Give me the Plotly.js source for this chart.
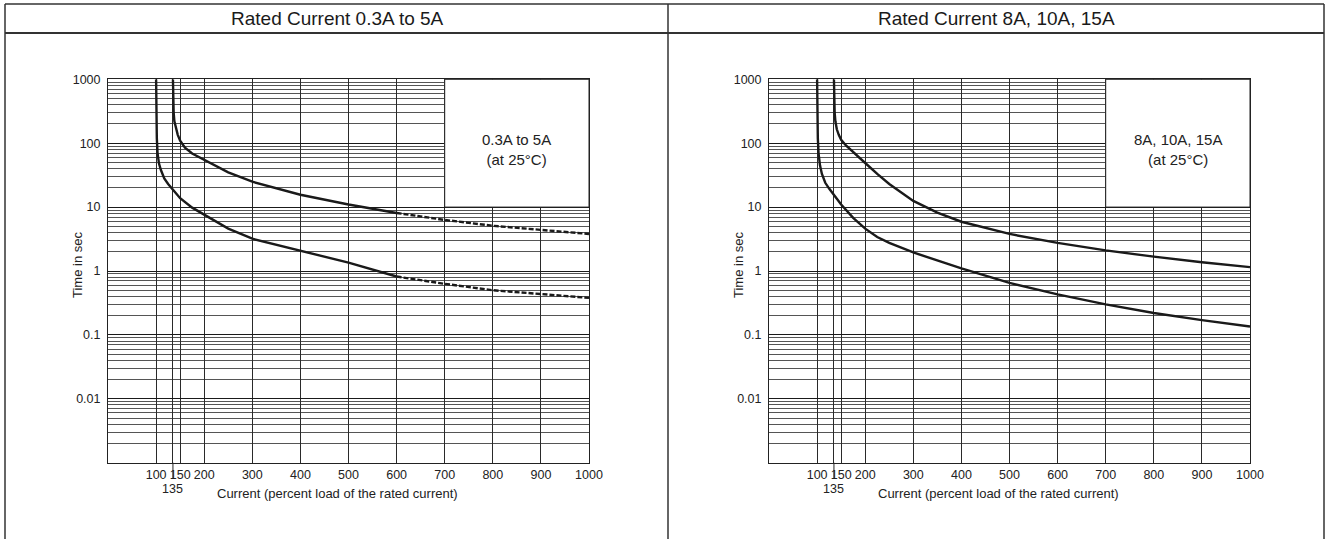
<!DOCTYPE html>
<html><head><meta charset="utf-8">
<script src="https://cdn.plot.ly/plotly-3.0.1.min.js"></script>
<style>html,body{margin:0;padding:0;background:#fff;}#chart{width:1328px;height:539px;}</style>
</head><body><div id="chart"></div>
<script>
// ---- text ----
const panelTitles = ['Rated Current 0.3A to 5A', 'Rated Current 8A, 10A, 15A'];
const boxLabels = ['0.3A to 5A<br>(at 25°C)', '8A, 10A, 15A<br>(at 25°C)'];
const xAxisTitle = 'Current (percent load of the rated current)';
const yAxisTitle = 'Time in sec';
const xTickVals = [100, 135, 150, 200, 300, 400, 500, 600, 700, 800, 900, 1000];
const xTickText = ['100', '', '150', '200', '300', '400', '500', '600', '700', '800', '900', '1000'];
const offsetTickVal = 135;
const offsetTickText = '135';
const yTickVals = [0.01, 0.1, 1, 10, 100, 1000];
const yTickText = ['0.01', '0.1', '1', '10', '100', '1000'];

// ---- left panel (0.3A to 5A) ----
const leftLowerX = [100, 100.5, 101.5, 103, 106, 110, 117, 125, 135, 150, 175, 200, 250, 300, 400, 500, 600];
const leftLowerY = [1000, 300, 120, 70, 48, 38, 28, 23, 19, 13.8, 9.8, 7.6, 4.6, 3.2, 2.05, 1.35, 0.82];
const leftLowerDashX = [600, 700, 800, 900, 1000];
const leftLowerDashY = [0.82, 0.63, 0.5, 0.43, 0.38];
const leftUpperX = [135, 135.5, 136.5, 138, 141, 145, 150, 160, 175, 200, 250, 300, 400, 500, 600];
const leftUpperY = [1000, 500, 300, 220, 170, 135, 110, 85, 69, 55, 35, 25, 15.6, 11, 8.1];
const leftUpperDashX = [600, 700, 800, 900, 1000];
const leftUpperDashY = [8.1, 6.3, 5.1, 4.4, 3.8];

// ---- right panel (8A, 10A, 15A) ----
const rightLowerX = [100, 100.5, 101.5, 103, 106, 110, 117, 125, 135, 150, 175, 200, 225, 250, 300, 400, 500, 600, 700, 800, 900, 1000];
const rightLowerY = [1000, 300, 120, 70, 45, 33, 24, 19.5, 15.5, 11, 6.8, 4.6, 3.4, 2.75, 1.95, 1.1, 0.65, 0.43, 0.30, 0.22, 0.17, 0.135];
const rightUpperX = [135, 135.5, 136.5, 138, 141, 145, 150, 160, 175, 200, 225, 250, 300, 350, 400, 500, 600, 700, 800, 900, 1000];
const rightUpperY = [1000, 500, 300, 220, 165, 135, 113, 92, 72, 49, 33, 23, 12.5, 8.2, 5.9, 3.8, 2.75, 2.1, 1.68, 1.37, 1.15];

// ---- geometry helpers ----
const W = 1328, H = 539;
const px = v => v / W;
const py = v => 1 - v / H;
const plotTop = 79.3, plotBottom = 462.7;
const yDom = [py(plotBottom), py(plotTop)];
const xDomL = [px(108), px(589)];
const xDomR = [px(769), px(1250)];

const minorY = [];
for (let k = -3; k <= 2; k++) for (let d = 2; d <= 9; d++) minorY.push(d * Math.pow(10, k));

const FONT = 'Liberation Sans, Arial, sans-serif';
const INK = '#222';

function curve(x, y, xa, ya, dashed) {
  return {x, y, xaxis: xa, yaxis: ya, type: 'scatter', mode: 'lines', hoverinfo: 'skip',
    line: {color: '#1a1a1a', width: 2.4, dash: dashed ? '5px,2px' : 'solid'}, showlegend: false};
}

const traces = [
  curve(leftLowerX, leftLowerY, 'x', 'y', false),
  curve(leftLowerDashX, leftLowerDashY, 'x', 'y', true),
  curve(leftUpperX, leftUpperY, 'x', 'y', false),
  curve(leftUpperDashX, leftUpperDashY, 'x', 'y', true),
  curve(rightLowerX, rightLowerY, 'x2', 'y2', false),
  curve(rightUpperX, rightUpperY, 'x2', 'y2', false)
];

function xAxis(domain, anchor) {
  return {domain, anchor, type: 'linear', range: [0, 1000], tickmode: 'array', tickvals: xTickVals,
    ticktext: xTickText, showgrid: true, gridcolor: '#2a2a2a', gridwidth: 1, zeroline: false,
    showline: true, mirror: true, linecolor: INK, linewidth: 1, ticks: '', ticklabelstandoff: 0,
    tickfont: {family: FONT, size: 12.5, color: INK}, fixedrange: true};
}
function yAxis(anchor) {
  return {domain: yDom, anchor, type: 'log', range: [-3, 3], tickmode: 'array', tickvals: yTickVals,
    ticktext: yTickText, showgrid: true, gridcolor: '#1a1a1a', gridwidth: 1, zeroline: false,
    showline: true, mirror: true, linecolor: INK, linewidth: 1, ticks: '', ticklabelstandoff: 4,
    tickfont: {family: FONT, size: 12.5, color: INK}, fixedrange: true,
    minor: {tickmode: 'array', tickvals: minorY, showgrid: true, gridcolor: '#555', gridwidth: 1, ticks: ''}};
}

const frame = {type: 'line', xref: 'paper', yref: 'paper', line: {color: '#333', width: 1.5}, layer: 'above'};
const shapes = [
  Object.assign({}, frame, {x0: px(5), x1: px(1324), y0: py(4), y1: py(4)}),
  Object.assign({}, frame, {x0: px(5), x1: px(1324), y0: py(33), y1: py(33), line: {color: '#333', width: 2}}),
  Object.assign({}, frame, {x0: px(5), x1: px(5), y0: py(4), y1: 0}),
  Object.assign({}, frame, {x0: px(668), x1: px(668), y0: py(4), y1: 0}),
  Object.assign({}, frame, {x0: px(1324), x1: px(1324), y0: py(4), y1: 0}),
];
[['x', 'y'], ['x2', 'y2']].forEach(([xa, ya]) => {
  shapes.push({type: 'rect', xref: xa, yref: ya + ' domain', x0: 700, x1: 1000, y0: 4 / 6, y1: 1,
    fillcolor: '#ffffff', line: {color: INK, width: 1}, layer: 'above'});
  shapes.push({type: 'line', xref: xa, yref: 'paper', x0: offsetTickVal, x1: offsetTickVal,
    y0: py(plotBottom), y1: py(478), line: {color: INK, width: 1}});
});

const ann = [];
const plotLefts = [108, 769];
const panelCenters = [337, 996];
['x', 'x2'].forEach((xa, i) => {
  const ya = i === 0 ? 'y' : 'y2';
  ann.push({xref: 'paper', yref: 'paper', x: px(panelCenters[i]), y: py(19), text: panelTitles[i],
    showarrow: false, xanchor: 'center', yanchor: 'middle', font: {family: FONT, size: 19, color: '#1a1a1a'}});
  ann.push({xref: xa, yref: ya + ' domain', x: 850, y: (plotBottom - 149) / (plotBottom - plotTop), text: boxLabels[i],
    showarrow: false, xanchor: 'center', yanchor: 'middle', font: {family: FONT, size: 15, color: INK}});
  ann.push({xref: xa, yref: 'paper', x: offsetTickVal, y: py(488.5), text: offsetTickText, showarrow: false,
    xanchor: 'center', yanchor: 'middle', font: {family: FONT, size: 12.5, color: INK}});
  ann.push({xref: 'paper', yref: 'paper', x: px(plotLefts[i] + 107), y: py(493.5), text: xAxisTitle, showarrow: false,
    xanchor: 'left', yanchor: 'middle', font: {family: FONT, size: 13, color: INK}});
  ann.push({xref: 'paper', yref: 'paper', x: px(plotLefts[i] - 31), y: py(265), text: yAxisTitle, showarrow: false,
    textangle: -90, xanchor: 'center', yanchor: 'middle', font: {family: FONT, size: 13, color: INK}});
});

const layout = {
  width: W, height: H, margin: {l: 0, r: 0, t: 0, b: 0}, paper_bgcolor: '#fff', plot_bgcolor: '#fff',
  showlegend: false, font: {family: FONT, color: INK},
  xaxis: xAxis(xDomL, 'y'), yaxis: yAxis('x'),
  xaxis2: xAxis(xDomR, 'y2'), yaxis2: yAxis('x2'),
  shapes, annotations: ann
};

Plotly.newPlot('chart', traces, layout, {staticPlot: true, displayModeBar: false});
</script></body></html>
